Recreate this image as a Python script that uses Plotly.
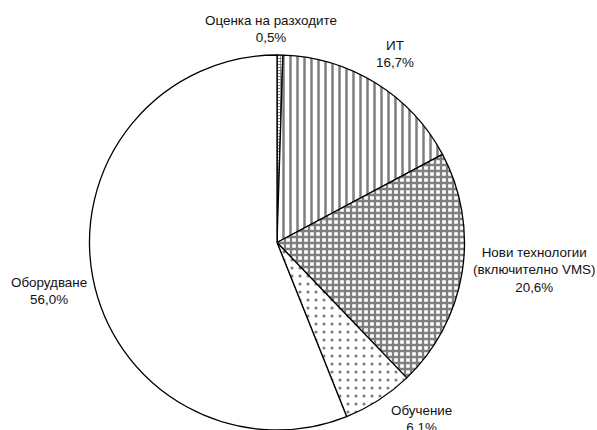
import plotly.graph_objects as go

categories = ["Оценка на разходите", "ИТ", "Нови технологии<br>(включително VMS)", "Обучение", "Оборудване"]
values = [0.5, 16.7, 20.6, 6.1, 56.0]
patterns = ["+", "|", "+", ".", ""]
pattern_sizes = [3, 7, 6, 8, 8]
pattern_solidity = [0.5, 0.36, 0.62, 0.12, 0.1]

# label anchor positions in pixels (layout only)
label_px = [(271, 29), (395, 54), (534, 270), (422, 419), (49, 291)]

W, H = 597, 430
ML, MR, MT, MB = 0, 43, 55, 0
PW, PH = W - ML - MR, H - MT - MB

fig = go.Figure(go.Pie(
    labels=categories,
    values=values,
    sort=False,
    direction="clockwise",
    rotation=0,
    textinfo="none",
    hoverinfo="label+percent",
    showlegend=False,
    marker=dict(
        colors=["white"] * len(values),
        line=dict(color="black", width=1.3),
        pattern=dict(
            shape=patterns,
            size=pattern_sizes,
            solidity=pattern_solidity,
            fgcolor="black",
            bgcolor="white",
            fillmode="overlay",
        ),
    ),
))

annotations = []
for name, v, (x, y) in zip(categories, values, label_px):
    txt = f"{name}<br>{v:.1f}%".replace(".", ",")
    annotations.append(dict(
        text=txt,
        x=(x - ML) / PW,
        y=(H - MB - y) / PH,
        xref="paper", yref="paper",
        xanchor="center", yanchor="middle",
        showarrow=False,
        align="center",
        font=dict(family="Liberation Sans, Arial, sans-serif", size=13.4, color="#111"),
    ))

fig.update_layout(
    width=W, height=H,
    margin=dict(l=ML, r=MR, t=MT, b=MB),
    paper_bgcolor="white",
    plot_bgcolor="white",
    annotations=annotations,
)

fig.write_html(
    "out.html",
    config={"displayModeBar": False},
    post_script="document.body.style.margin='0';document.body.style.overflow='hidden';",
)
